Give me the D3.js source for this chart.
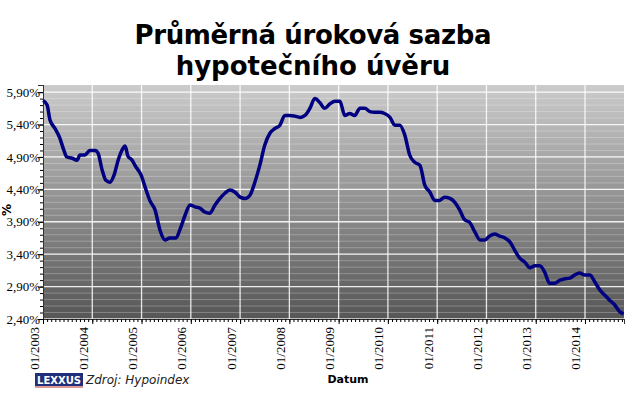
<!DOCTYPE html>
<html><head><meta charset="utf-8">
<script src="https://cdn.jsdelivr.net/npm/d3@7"></script>
<style>body{margin:0;background:#fff}</style>
</head><body>
<svg id="chart" width="640" height="400"></svg>
<script>
// months since 01/2003
var months = [0,1,1.7,2.9,4.1,5.1,5.8,7.1,8.3,9,10.2,11.4,12.7,13.4,14.4,15.3,16.3,17.3,18.3,19.2,20,20.7,21.7,22.4,23.9,25.1,26,27.3,28.5,29.7,30.9,32.4,33.3,34.6,35.8,37,38.2,39.4,40.6,41.9,43.1,44.3,45.5,46.7,48,49.2,50.4,51.6,52.8,54,55.3,56.5,57.7,58.9,60.1,61.3,62.6,63.8,65,66.2,67.4,68.6,69.9,71.1,72.3,73.5,74.7,75.9,77.2,78.4,79.6,80.8,82,83.2,84.5,85.7,86.9,88.1,89.3,90.5,91.8,93,94.2,95.4,96.6,97.8,99.1,100.3,101.5,102.7,103.9,105.2,106.4,107.6,108.8,110,111.2,112.5,113.7,114.9,116.1,117.3,118.6,119.8,121,122.2,123.4,124.6,125.9,127.1,128.3,129.5,130.7,131.9,133.2,134.4,135.6,136.8,138,139.2,140.5,141.4];
var rates = [5.77,5.70,5.47,5.34,5.19,5.00,4.90,4.88,4.85,4.93,4.93,5.00,5.00,4.96,4.70,4.54,4.51,4.62,4.85,5.00,5.07,4.91,4.85,4.77,4.62,4.39,4.23,4.08,3.77,3.62,3.65,3.65,3.77,4.00,4.16,4.13,4.11,4.05,4.03,4.16,4.26,4.34,4.39,4.36,4.28,4.26,4.31,4.51,4.77,5.08,5.27,5.34,5.39,5.54,5.54,5.53,5.51,5.54,5.65,5.80,5.74,5.65,5.72,5.76,5.76,5.54,5.57,5.54,5.65,5.65,5.60,5.59,5.59,5.57,5.51,5.39,5.39,5.24,4.93,4.82,4.77,4.46,4.36,4.23,4.23,4.28,4.26,4.20,4.08,3.93,3.89,3.74,3.62,3.62,3.68,3.71,3.68,3.65,3.59,3.46,3.34,3.28,3.19,3.22,3.22,3.12,2.95,2.95,3.00,3.02,3.03,3.08,3.11,3.08,3.08,2.97,2.85,2.77,2.69,2.62,2.51,2.48];
var yearLabels = ["01/2003","01/2004","01/2005","01/2006","01/2007","01/2008","01/2009","01/2010","01/2011","01/2012","01/2013","01/2014"];
var yTicks = [2.4,2.9,3.4,3.9,4.4,4.9,5.4,5.9];

var margin = {top:85, left:43, right:16, bottom:81};
var width = 640 - margin.left - margin.right, height = 400 - margin.top - margin.bottom;
var svg = d3.select("#chart");

var grad = svg.append("defs").append("linearGradient").attr("id","bg")
  .attr("x1",0).attr("y1",0).attr("x2",0).attr("y2",1);
grad.append("stop").attr("offset","0%").attr("stop-color","#cbcbcb");
grad.append("stop").attr("offset","100%").attr("stop-color","#565656");

svg.append("text").attr("x",313).attr("y",44).attr("text-anchor","middle")
  .attr("font-family","DejaVu Sans").attr("font-weight","bold").attr("font-size","26px")
  .attr("textLength",357).text("Průměrná úroková sazba");
svg.append("text").attr("x",313).attr("y",75).attr("text-anchor","middle")
  .attr("font-family","DejaVu Sans").attr("font-weight","bold").attr("font-size","26px")
  .text("hypotečního úvěru");

var g = svg.append("g").attr("transform","translate(" + [margin.left, margin.top] + ")");

var x = d3.scaleLinear().domain([0,141.5]).range([0,width]);
var y = d3.scaleLinear().domain([2.4,6.01]).range([height,0]);

g.append("rect").attr("width",width).attr("height",height).attr("fill","url(#bg)");

// minor grid
g.selectAll(".minor").data(d3.range(25,60).map(function(d){return d/10;}))
  .enter().append("line")
  .attr("x1",0).attr("x2",width)
  .attr("y1",function(d){return y(d);}).attr("y2",function(d){return y(d);})
  .attr("stroke","#ffffff").attr("stroke-opacity",0.25).attr("stroke-width",1);
// major grid
g.selectAll(".hg").data(yTicks).enter().append("line")
  .attr("x1",0).attr("x2",width)
  .attr("y1",function(d){return y(d);}).attr("y2",function(d){return y(d);})
  .attr("stroke","#fff").attr("stroke-opacity",0.85).attr("stroke-width",1.3);
g.selectAll(".vg").data(yearLabels).enter().append("line")
  .attr("x1",function(d,i){return x(i*12);}).attr("x2",function(d,i){return x(i*12);})
  .attr("y1",0).attr("y2",height)
  .attr("stroke","#fff").attr("stroke-opacity",0.85).attr("stroke-width",1.3);

var yAxis = d3.axisLeft(y).tickValues(yTicks).tickSize(5)
  .tickFormat(function(d){return d3.format(".2f")(d).replace(".",",") + "%";});
var ya = g.append("g").call(yAxis);
ya.selectAll("text").attr("font-family","Liberation Serif").attr("font-size","13px").attr("x",-3);
g.append("g").call(d3.axisLeft(y).tickValues(d3.range(24,60).map(function(d){return d/10;})).tickSize(3).tickFormat(""));

var xAxis = d3.axisBottom(x).tickValues(d3.range(0,142,12)).tickSize(5)
  .tickFormat(function(d){return yearLabels[d/12];});
var xa = g.append("g").attr("transform","translate(0," + height + ")").call(xAxis);
xa.selectAll("text").attr("font-family","Liberation Serif").attr("font-size","13px")
  .attr("transform","rotate(-90)").attr("text-anchor","end").attr("x",-8).attr("y",-5).attr("dy",0);
g.append("g").attr("transform","translate(0," + height + ")")
  .call(d3.axisBottom(x).tickValues(d3.range(0,142)).tickSize(3).tickFormat(""));
g.selectAll(".domain").attr("stroke","#333");

var line = d3.line().curve(d3.curveMonotoneX)
  .x(function(d){return x(d[0]);}).y(function(d){return y(d[1]);});
g.append("path").datum(d3.zip(months, rates))
  .attr("d",line).attr("fill","none").attr("stroke","#000080").attr("stroke-width",3.5)
  .attr("stroke-linejoin","round");

svg.append("text").attr("transform","translate(11,210)rotate(-90)").attr("text-anchor","middle")
  .attr("font-family","DejaVu Sans").attr("font-weight","bold").attr("font-size","12px").text("%");
svg.append("text").attr("x",348).attr("y",383).attr("text-anchor","middle")
  .attr("font-family","DejaVu Sans").attr("font-weight","bold").attr("font-size","11px").text("Datum");

svg.append("rect").attr("x",35).attr("y",373).attr("width",48).attr("height",13).attr("fill","#1f2f7a");
svg.append("line").attr("x1",35).attr("x2",83).attr("y1",387).attr("y2",387).attr("stroke","#c03030");
svg.append("text").attr("x",59).attr("y",383.5).attr("text-anchor","middle").attr("fill","#fff")
  .attr("font-family","DejaVu Sans").attr("font-weight","bold").attr("font-size","10px").text("LEXXUS");
svg.append("text").attr("x",86).attr("y",384).attr("font-family","DejaVu Sans")
  .attr("font-style","italic").attr("font-size","12px").attr("fill","#222").text("Zdroj:  Hypoindex");
</script>
</body></html>
